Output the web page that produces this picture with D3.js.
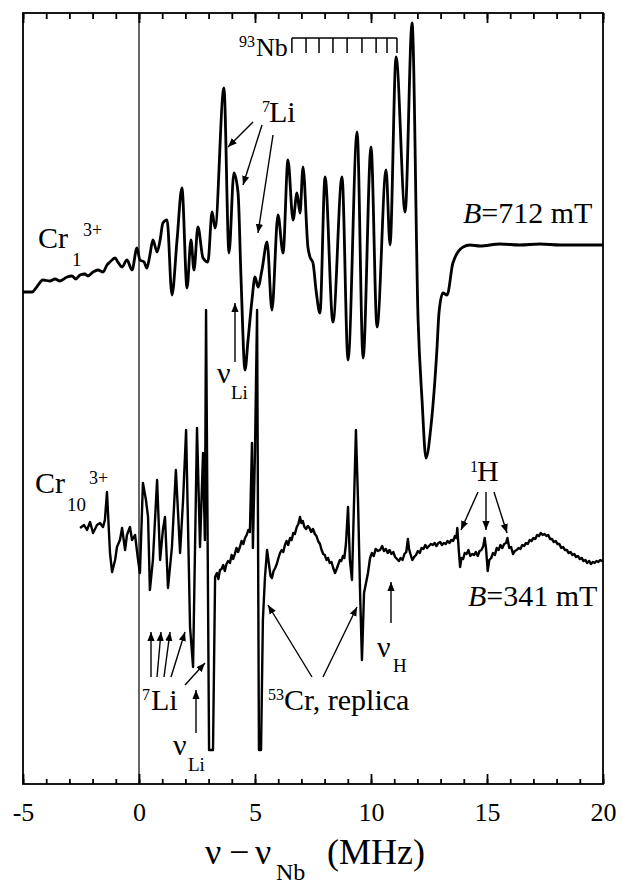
<!DOCTYPE html>
<html><head><meta charset="utf-8">
<script src="https://cdn.jsdelivr.net/npm/d3@7"></script>
<style>
body{margin:0;background:#fff}
svg{display:block}
text{font-family:"Liberation Serif","Times New Roman",serif;fill:#000}
</style>
</head><body><svg id="c" width="623" height="884"></svg>
<script>
// ---- data ----
// Cr1(3+) spectrum, B = 712 mT
const topFreq = [-5.00,-4.61,-4.44,-4.14,-3.84,-3.62,-3.41,-3.10,-2.89,-2.72,
-2.54,-2.33,-2.20,-1.98,-1.77,-1.55,-1.38,-1.25,-1.03,-0.91,
-0.73,-0.52,-0.30,-0.09,0.04,0.22,0.34,0.47,0.60,0.78,
0.91,1.03,1.21,1.42,1.64,1.85,2.07,2.24,2.37,2.54,
2.76,2.97,3.15,3.28,3.66,3.88,4.09,4.27,4.40,4.57,
4.70,4.87,5.00,5.13,5.30,5.52,5.73,5.99,6.21,6.42,
6.64,6.81,6.94,7.07,7.28,7.37,7.50,7.63,7.80,8.02,
8.36,8.75,9.01,9.40,9.66,10.00,10.26,10.65,10.82,11.08,
11.47,11.77,12.03,12.20,12.37,12.59,12.84,12.93,13.10,13.28,
13.53,13.97,14.27,14.70,15.56,16.42,17.28,18.15,19.01,20.00];
const topSignal = [49.2,49.2,49.6,50.4,50.3,50.5,50.3,50.7,50.8,50.5,
50.9,51.0,50.8,51.2,51.4,51.2,51.9,52.2,52.6,52.2,
51.7,52.4,51.4,53.6,52.4,52.2,51.6,52.9,54.4,53.2,
54.4,56.1,56.4,48.9,54.4,59.6,49.6,54.4,51.4,55.7,
52.6,52.2,57.2,55.6,69.6,53.1,61.1,59.1,50.4,41.4,
44.4,48.4,50.7,49.7,51.4,54.2,47.4,56.9,53.1,62.4,
56.4,59.1,57.1,61.7,53.7,52.7,52.1,49.4,47.1,60.7,
46.2,60.7,42.4,65.2,42.6,63.7,45.7,61.4,53.9,72.7,
57.2,76.1,46.4,38.4,32.6,35.9,43.4,47.1,49.1,48.9,
52.1,53.7,53.9,53.8,54.0,53.9,54.0,53.9,53.9,53.9];

// Cr10(3+) spectrum, B = 341 mT
const botFreq = [-2.54,-2.37,-2.24,-2.11,-1.98,-1.81,-1.68,-1.55,-1.47,-1.38,
-1.25,-1.16,-1.03,-0.95,-0.82,-0.73,-0.60,-0.52,-0.39,-0.30,
-0.17,-0.04,0.04,0.17,0.30,0.39,0.47,0.60,0.78,0.91,
1.03,1.12,1.25,1.42,1.59,1.77,1.90,2.03,2.20,2.33,
2.50,2.63,2.76,2.84,2.89,3.02,3.19,3.28,3.36,3.42,
3.49,3.56,3.63,3.70,3.77,3.84,3.92,3.99,4.06,4.13,
4.20,4.27,4.35,4.42,4.50,4.57,4.64,4.71,4.78,4.87,
4.91,5.00,5.09,5.17,5.26,5.34,5.43,5.52,5.60,5.67,
5.73,5.80,5.87,5.94,6.01,6.08,6.15,6.22,6.29,6.36,
6.43,6.51,6.58,6.65,6.72,6.80,6.87,6.94,7.00,7.06,
7.13,7.20,7.28,7.35,7.42,7.50,7.58,7.65,7.72,7.80,
7.87,7.94,8.01,8.08,8.15,8.22,8.30,8.37,8.45,8.52,
8.58,8.66,8.72,8.79,8.85,8.92,9.01,9.09,9.18,9.35,
9.44,9.53,9.61,9.70,9.87,9.96,10.04,10.12,10.20,10.30,
10.39,10.48,10.56,10.64,10.72,10.80,10.88,10.96,11.04,11.12,
11.20,11.28,11.36,11.44,11.52,11.59,11.64,11.70,11.78,11.86,
11.94,12.02,12.10,12.18,12.26,12.34,12.42,12.50,12.58,12.66,
12.74,12.82,12.90,12.98,13.06,13.14,13.22,13.30,13.38,13.46,
13.54,13.62,13.68,13.72,13.78,13.84,13.90,13.97,14.04,14.12,
14.20,14.28,14.36,14.44,14.52,14.60,14.68,14.76,14.84,14.90,
14.96,15.03,15.10,15.18,15.26,15.34,15.42,15.50,15.58,15.66,
15.74,15.82,15.88,15.96,16.04,16.12,16.20,16.28,16.36,16.44,
16.52,16.60,16.68,16.76,16.84,16.92,17.00,17.08,17.16,17.24,
17.32,17.40,17.48,17.56,17.64,17.72,17.80,17.88,17.96,18.04,
18.12,18.20,18.28,18.36,18.44,18.52,18.60,18.68,18.76,18.84,
18.92,19.00,19.08,19.16,19.24,19.32,19.40,19.48,19.56,19.64,
19.72,19.80,19.88,19.96,20.00];
const botSignal = [25.6,25.9,25.4,26.2,25.1,25.9,26.1,25.7,26.4,29.2,
23.1,21.2,22.4,23.7,24.4,25.6,23.4,24.9,25.7,24.4,
24.9,22.4,21.1,30.1,28.4,26.7,19.4,22.4,30.4,22.4,
25.4,26.7,19.6,23.7,31.4,23.1,28.4,35.4,15.7,11.7,
35.6,23.7,33.1,24.4,47.4,3.4,3.4,20.7,21.1,20.5,
21.4,21.5,21.9,21.3,22.0,22.3,22.1,22.9,22.5,23.0,
23.6,23.2,23.7,24.3,24.0,24.6,24.9,25.4,25.2,34.1,
23.6,33.4,47.4,3.4,3.4,16.4,20.7,23.4,22.0,20.8,
20.6,21.3,21.6,22.0,22.6,23.1,23.4,23.2,23.9,24.3,
23.9,24.6,24.4,25.1,25.0,25.7,26.0,26.7,26.1,26.3,
25.7,25.5,25.8,25.6,25.2,25.5,25.0,24.8,24.3,24.0,
23.4,23.0,22.9,22.4,22.6,22.1,22.2,21.6,21.1,21.5,
21.9,22.4,22.3,22.8,22.6,24.0,27.7,22.4,20.4,35.4,
28.4,19.1,12.4,19.1,21.1,22.6,23.1,22.8,23.5,23.3,
23.4,23.8,23.3,23.5,23.1,23.4,23.0,23.2,22.7,22.5,
22.3,22.6,22.4,23.0,23.2,24.5,23.5,23.0,22.4,22.7,
22.9,23.3,23.1,23.6,23.5,23.9,23.6,23.8,24.0,23.9,
24.1,23.8,24.1,24.2,23.9,24.1,24.0,24.3,24.1,24.4,
24.3,24.8,24.6,25.6,23.5,21.7,22.6,22.5,23.1,23.0,
23.4,22.8,23.0,22.9,23.2,22.8,23.3,23.4,23.8,24.6,
23.5,21.3,22.4,22.6,23.1,22.9,23.6,23.4,23.9,23.6,
24.0,24.1,24.6,23.6,23.7,23.0,23.3,23.4,23.6,23.5,
23.9,23.8,24.1,24.0,24.4,24.3,24.6,24.5,24.9,24.8,
25.1,24.9,25.0,24.8,24.9,24.5,24.5,24.2,24.3,24.0,
24.0,23.6,23.7,23.4,23.4,23.1,23.2,22.9,23.0,22.7,
22.8,22.5,22.6,22.3,22.4,22.1,22.3,22.0,22.2,22.1,
22.3,22.2,22.4,22.3,22.4];

const xTickLabels = [-5, 0, 5, 10, 15, 20];
const xMinorTicks = d3.range(-5, 21, 1);
const nbComb = [6.59, 7.20, 7.76, 8.36, 8.97, 9.61, 10.22, 10.69, 11.12];

// ---- layout ----
const svg = d3.select("#c");
const L = 23, R = 603, T = 13, B = 784;
const x = d3.scaleLinear().domain([-5, 20]).range([L, R]);
const y = d3.scaleLinear().domain([0, 77.1]).range([B, T]);

// zero line
svg.append("line").attr("x1", x(0)).attr("x2", x(0)).attr("y1", T).attr("y2", B)
  .attr("stroke", "#000").attr("stroke-width", 1.2);

// axes
const minorB = d3.axisBottom(x).tickValues(xMinorTicks).tickSize(-5).tickFormat("");
const majorB = d3.axisBottom(x).tickValues(xTickLabels).tickSize(-10).tickPadding(19)
  .tickFormat(d => String(d));
const minorT = d3.axisTop(x).tickValues(xMinorTicks).tickSize(-6).tickFormat("");
const majorT = d3.axisTop(x).tickValues(xTickLabels).tickSize(-10).tickFormat("");
function styleAxis(g){ g.select(".domain").remove(); g.selectAll("line").attr("stroke","#000").attr("stroke-width",1.8); }
svg.append("g").attr("transform", `translate(0,${B})`).call(minorB).call(styleAxis);
const gb = svg.append("g").attr("transform", `translate(0,${B})`).call(majorB).call(styleAxis);
gb.selectAll("text").attr("font-size", 26).attr("font-family", '"Liberation Serif","Times New Roman",serif').attr("fill","#000");
svg.append("g").attr("transform", `translate(0,${T})`).call(minorT).call(styleAxis);
svg.append("g").attr("transform", `translate(0,${T})`).call(majorT).call(styleAxis);

// frame
svg.append("rect").attr("x", L).attr("y", T).attr("width", R - L).attr("height", B - T)
  .attr("fill", "none").attr("stroke", "#000").attr("stroke-width", 1.8);

// spectra
const lineSmooth = d3.line().x(d => x(d[0])).y(d => y(d[1])).curve(d3.curveMonotoneX);
const lineSharp = d3.line().x(d => x(d[0])).y(d => y(d[1]));
svg.append("path").datum(d3.zip(topFreq, topSignal)).attr("d", lineSmooth)
  .attr("fill", "none").attr("stroke", "#000").attr("stroke-width", 2.8).attr("stroke-linejoin", "round");
svg.append("path").datum(d3.zip(botFreq, botSignal)).attr("d", lineSharp)
  .attr("fill", "none").attr("stroke", "#000").attr("stroke-width", 2.4).attr("stroke-linejoin", "round");

// Nb comb
const combY = 38, combH = 15;
svg.append("line").attr("x1", x(nbComb[0])).attr("x2", x(nbComb[nbComb.length-1]))
  .attr("y1", combY).attr("y2", combY).attr("stroke","#000").attr("stroke-width",1.5);
svg.selectAll(".comb").data(nbComb).join("line").attr("class","comb")
  .attr("x1", d => x(d)).attr("x2", d => x(d)).attr("y1", combY).attr("y2", combY + combH)
  .attr("stroke","#000").attr("stroke-width",1.5);

// text helpers
function txt(s, px, py, size, opts = {}) {
  const t = svg.append("text").attr("x", px).attr("y", py).attr("font-size", size).text(s);
  if (opts.italic) t.attr("font-style", "italic");
  if (opts.anchor) t.attr("text-anchor", opts.anchor);
  return t;
}
const defs = svg.append("defs");
defs.append("marker").attr("id","ah").attr("viewBox","0 0 10 10").attr("refX",10).attr("refY",5)
  .attr("markerWidth",9).attr("markerHeight",9).attr("markerUnits","userSpaceOnUse").attr("orient","auto")
  .append("path").attr("d","M0,1 L10,5 L0,9 Z").attr("fill","#000");
function arrow(x1,y1,x2,y2){
  svg.append("line").attr("x1",x1).attr("y1",y1).attr("x2",x2).attr("y2",y2)
    .attr("stroke","#000").attr("stroke-width",1.4).attr("marker-end","url(#ah)");
}

const M = 30, SUB = 19, SUP = 16;
// top labels
txt("93", 239, 47, SUP); txt("Nb", 256, 56, 26);
txt("7", 262, 112, SUP); txt("Li", 269, 122, M);
arrow(253,122,228,147); arrow(262,125,243,185); arrow(273,135,258,233);
arrow(235,362,235,303);
txt("ν", 217, 383, M); txt("Li", 231, 399, SUB);
txt("Cr", 38, 248, M); txt("1", 72, 266, SUB); txt("3+", 83, 236, SUP + 2);
const b1 = txt("", 463, 223, M); b1.append("tspan").attr("font-style","italic").text("B"); b1.append("tspan").text("=712 mT");

// bottom labels
txt("Cr", 35, 493, M); txt("10", 67, 511, SUB); txt("3+", 89, 484, SUP + 2);
txt("1", 470, 472, SUP); txt("H", 477, 481, M);
arrow(478,492,461,530); arrow(486,492,486,530); arrow(494,492,507,533);
const b2 = txt("", 468, 606, M); b2.append("tspan").attr("font-style","italic").text("B"); b2.append("tspan").text("=341 mT");
arrow(391,623,391,582);
txt("ν", 377, 657, M); txt("H", 393, 672, SUB);
txt("53", 268, 700, SUP); txt("Cr, replica", 284, 710, M);
arrow(312,677,268,605); arrow(323,677,357,607);
txt("7", 142, 700, SUP); txt("Li", 151, 710, M);
arrow(151,677,151,632); arrow(157,677,161,632); arrow(164,677,170,632); arrow(171,677,185,632);
arrow(185,685,205,663);
arrow(196,733,196,690);
txt("ν", 173, 755, M); txt("Li", 188, 771, SUB);

// axis title
txt("ν", 205, 864, 36);
txt("−", 229, 864, 36);
txt("ν", 255, 864, 36);
txt("Nb", 276, 880, 24);
txt("(MHz)", 327, 864, 36);
</script></body></html>
